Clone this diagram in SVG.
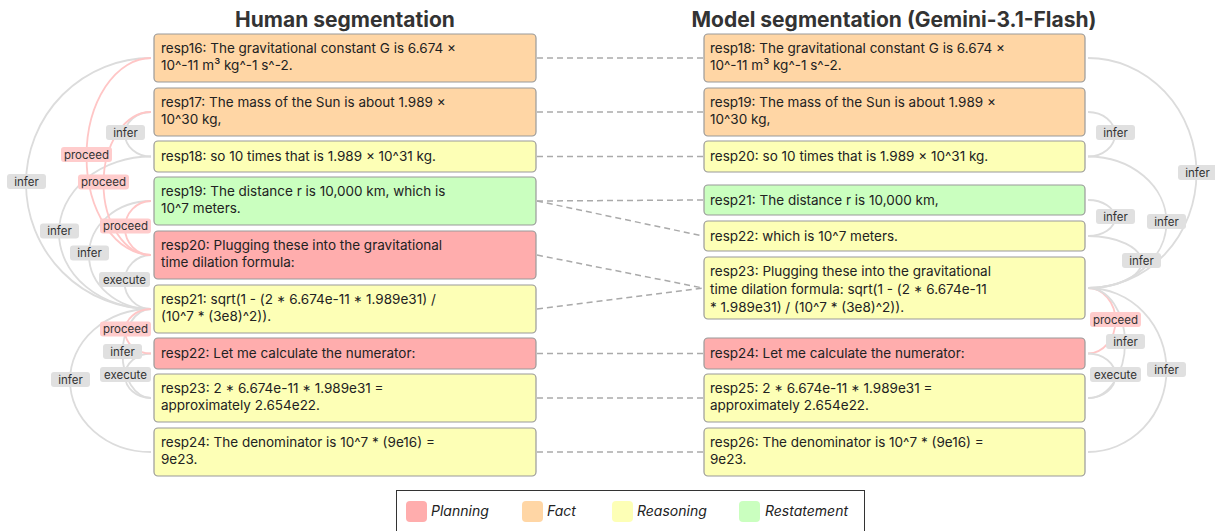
<svg xmlns="http://www.w3.org/2000/svg" width="1215" height="531" viewBox="0 0 1215 531">
<style>
.title{font-family:Inter,"Liberation Sans",sans-serif;font-weight:700;font-size:21px;fill:#333;text-anchor:middle}
.box{stroke:#9a9a9a;stroke-width:1.2}
.fact{fill:#FFD6A5}.reas{fill:#FDFFB6}.rest{fill:#CAFFBF}.plan{fill:#FFADAD}
.t{font-family:Inter,"Liberation Sans",sans-serif;font-size:13.5px;fill:#222}
.dash{stroke:#aaa;stroke-width:1.5;stroke-dasharray:6 4;fill:none}
.arc{fill:none;stroke:#dcdcdc;stroke-width:1.8}
.parc{fill:none;stroke:#ffc6c6;stroke-width:1.8}
.lg{fill:#e0e0e0}.lp{fill:#ffcccc}
.lt{font-family:Inter,"Liberation Sans",sans-serif;font-size:11.5px;fill:#333;text-anchor:middle}
.leg{font-family:Inter,"Liberation Sans",sans-serif;font-size:14px;font-style:italic;fill:#222}
</style>
<rect width="1215" height="531" fill="#fff"/>
<text class="title" x="345" y="27">Human segmentation</text>
<text class="title" x="894" y="27">Model segmentation (Gemini-3.1-Flash)</text>

<g id="connectors">
<!-- left arcs -->
<path class="arc" d="M151 58 A124.5 125 0 0 0 151 309"/>
<path class="arc" d="M151 156.5 A92 76.25 0 0 0 151 309"/>
<path class="arc" d="M151 201 A62 54 0 0 0 151 309"/>
<path class="arc" d="M151 255 A26.5 27 0 0 0 151 309"/>
<path class="arc" d="M151 112 A26 22.25 0 0 0 151 156.5"/>
<path class="parc" d="M151 58 A64.5 98.5 0 0 0 151 255"/>
<path class="parc" d="M151 112 A47.5 71.5 0 0 0 151 255"/>
<path class="parc" d="M151 201 A26 27 0 0 0 151 255"/>
<path class="arc" d="M151 309 A81 71.5 0 0 0 151 452"/>
<path class="arc" d="M151 309 A28.5 44.5 0 0 0 151 398"/>
<path class="arc" d="M151 353.5 A26 22.25 0 0 0 151 398"/>
<path class="parc" d="M151 309 A26 22.25 0 0 0 151 353.5"/>
<!-- right arcs -->
<path class="arc" d="M1088 58 A108.5 115 0 0 1 1088 288"/>
<path class="arc" d="M1088 112 A27 22.25 0 0 1 1088 156.5"/>
<path class="arc" d="M1088 156.5 A78.5 65.75 0 0 1 1088 288"/>
<path class="arc" d="M1088 200 A27 18 0 0 1 1088 236"/>
<path class="arc" d="M1088 236 A53.5 26 0 0 1 1088 288"/>
<path class="parc" d="M1088 288 A27.5 32.75 0 0 1 1088 353.5"/>
<path class="arc" d="M1088 288 A37 55 0 0 1 1088 398"/>
<path class="arc" d="M1088 353.5 A27.5 22.25 0 0 1 1088 398"/>
<path class="arc" d="M1088 288 A78.5 82 0 0 1 1088 452"/>
<!-- dashed alignments -->
<path class="dash" d="M537 58 L703 58"/>
<path class="dash" d="M537 112 L703 112"/>
<path class="dash" d="M537 156.5 L703 156.5"/>
<path class="dash" d="M537 201 L703 200"/>
<path class="dash" d="M537 201 L703 236"/>
<path class="dash" d="M537 255 L703 288"/>
<path class="dash" d="M537 309 L703 288"/>
<path class="dash" d="M537 353.5 L703 353.5"/>
<path class="dash" d="M537 398 L703 398"/>
<path class="dash" d="M537 452 L703 452"/>
<!-- labels left -->
<rect class="lg" x="106" y="125" width="39" height="15" rx="3"/><text class="lt" x="125.5" y="136.5">infer</text>
<rect class="lp" x="61" y="147" width="51" height="15" rx="3"/><text class="lt" x="86.5" y="158.5">proceed</text>
<rect class="lg" x="7" y="174" width="39" height="15" rx="3"/><text class="lt" x="26.5" y="185.5">infer</text>
<rect class="lp" x="78" y="174.5" width="51" height="15" rx="3"/><text class="lt" x="103.5" y="186">proceed</text>
<rect class="lp" x="100" y="218.5" width="51" height="15" rx="3"/><text class="lt" x="125.5" y="230">proceed</text>
<rect class="lg" x="40" y="223.5" width="39" height="15" rx="3"/><text class="lt" x="59.5" y="235">infer</text>
<rect class="lg" x="70" y="245.5" width="39" height="15" rx="3"/><text class="lt" x="89.5" y="257">infer</text>
<rect class="lg" x="99" y="272" width="51" height="15" rx="3"/><text class="lt" x="124.5" y="283.5">execute</text>
<rect class="lp" x="100" y="321.5" width="51" height="15" rx="3"/><text class="lt" x="125.5" y="333">proceed</text>
<rect class="lg" x="103" y="344" width="39" height="15" rx="3"/><text class="lt" x="122.5" y="355.5">infer</text>
<rect class="lg" x="100" y="367" width="51" height="15" rx="3"/><text class="lt" x="125.5" y="378.5">execute</text>
<rect class="lg" x="51" y="372" width="39" height="15" rx="3"/><text class="lt" x="70.5" y="383.5">infer</text>
<!-- labels right -->
<rect class="lg" x="1096" y="125" width="39" height="15" rx="3"/><text class="lt" x="1115.5" y="136.5">infer</text>
<rect class="lg" x="1178" y="165" width="39" height="15" rx="3"/><text class="lt" x="1197.5" y="176.5">infer</text>
<rect class="lg" x="1096" y="209" width="39" height="15" rx="3"/><text class="lt" x="1115.5" y="220.5">infer</text>
<rect class="lg" x="1147" y="214" width="39" height="15" rx="3"/><text class="lt" x="1166.5" y="225.5">infer</text>
<rect class="lg" x="1122" y="253" width="39" height="15" rx="3"/><text class="lt" x="1141.5" y="264.5">infer</text>
<rect class="lp" x="1090" y="312" width="51" height="15" rx="3"/><text class="lt" x="1115.5" y="323.5">proceed</text>
<rect class="lg" x="1106" y="334" width="39" height="15" rx="3"/><text class="lt" x="1125.5" y="345.5">infer</text>
<rect class="lg" x="1147" y="362" width="39" height="15" rx="3"/><text class="lt" x="1166.5" y="373.5">infer</text>
<rect class="lg" x="1090" y="367" width="51" height="15" rx="3"/><text class="lt" x="1115.5" y="378.5">execute</text>
</g>

<g id="L16"><rect class="box fact" x="154" y="34" width="382" height="48" rx="4"/><text class="t" x="161" y="53">resp16: The gravitational constant G is 6.674 ×</text><text class="t" x="161" y="70">10^-11 m³ kg^-1 s^-2.</text></g>
<g id="L17"><rect class="box fact" x="154" y="88" width="382" height="48" rx="4"/><text class="t" x="161" y="107">resp17: The mass of the Sun is about 1.989 ×</text><text class="t" x="161" y="124">10^30 kg,</text></g>
<g id="L18"><rect class="box reas" x="154" y="141" width="382" height="31" rx="4"/><text class="t" x="161" y="161">resp18: so 10 times that is 1.989 × 10^31 kg.</text></g>
<g id="L19"><rect class="box rest" x="154" y="177" width="382" height="48" rx="4"/><text class="t" x="161" y="196">resp19: The distance r is 10,000 km, which is</text><text class="t" x="161" y="213">10^7 meters.</text></g>
<g id="L20"><rect class="box plan" x="154" y="231" width="382" height="48" rx="4"/><text class="t" x="161" y="250">resp20: Plugging these into the gravitational</text><text class="t" x="161" y="267">time dilation formula:</text></g>
<g id="L21"><rect class="box reas" x="154" y="285" width="382" height="48" rx="4"/><text class="t" x="161" y="304">resp21: sqrt(1 - (2 * 6.674e-11 * 1.989e31) /</text><text class="t" x="161" y="321">(10^7 * (3e8)^2)).</text></g>
<g id="L22"><rect class="box plan" x="154" y="338" width="382" height="31" rx="4"/><text class="t" x="161" y="358">resp22: Let me calculate the numerator:</text></g>
<g id="L23"><rect class="box reas" x="154" y="374" width="382" height="48" rx="4"/><text class="t" x="161" y="393">resp23: 2 * 6.674e-11 * 1.989e31 =</text><text class="t" x="161" y="410">approximately 2.654e22.</text></g>
<g id="L24"><rect class="box reas" x="154" y="428" width="382" height="48" rx="4"/><text class="t" x="161" y="447">resp24: The denominator is 10^7 * (9e16) =</text><text class="t" x="161" y="464">9e23.</text></g>

<g id="R18"><rect class="box fact" x="704" y="34" width="381" height="48" rx="4"/><text class="t" x="710" y="53">resp18: The gravitational constant G is 6.674 ×</text><text class="t" x="710" y="70">10^-11 m³ kg^-1 s^-2.</text></g>
<g id="R19"><rect class="box fact" x="704" y="88" width="381" height="48" rx="4"/><text class="t" x="710" y="107">resp19: The mass of the Sun is about 1.989 ×</text><text class="t" x="710" y="124">10^30 kg,</text></g>
<g id="R20"><rect class="box reas" x="704" y="141" width="381" height="31" rx="4"/><text class="t" x="710" y="161">resp20: so 10 times that is 1.989 × 10^31 kg.</text></g>
<g id="R21"><rect class="box rest" x="704" y="185" width="381" height="30" rx="4"/><text class="t" x="710" y="205">resp21: The distance r is 10,000 km,</text></g>
<g id="R22"><rect class="box reas" x="704" y="221" width="381" height="30" rx="4"/><text class="t" x="710" y="241">resp22: which is 10^7 meters.</text></g>
<g id="R23"><rect class="box reas" x="704" y="257" width="381" height="62" rx="4"/><text class="t" x="710" y="276">resp23: Plugging these into the gravitational</text><text class="t" x="710" y="294">time dilation formula: sqrt(1 - (2 * 6.674e-11</text><text class="t" x="710" y="312">* 1.989e31) / (10^7 * (3e8)^2)).</text></g>
<g id="R24"><rect class="box plan" x="704" y="338" width="381" height="31" rx="4"/><text class="t" x="710" y="358">resp24: Let me calculate the numerator:</text></g>
<g id="R25"><rect class="box reas" x="704" y="374" width="381" height="48" rx="4"/><text class="t" x="710" y="393">resp25: 2 * 6.674e-11 * 1.989e31 =</text><text class="t" x="710" y="410">approximately 2.654e22.</text></g>
<g id="R26"><rect class="box reas" x="704" y="428" width="381" height="48" rx="4"/><text class="t" x="710" y="447">resp26: The denominator is 10^7 * (9e16) =</text><text class="t" x="710" y="464">9e23.</text></g>

<g id="legend">
<rect x="396.5" y="490.5" width="468" height="50" fill="#fff" stroke="#333" stroke-width="1"/>
<rect x="406" y="501" width="21" height="21" rx="4" class="plan"/><text class="leg" x="431" y="516">Planning</text>
<rect x="522" y="501" width="21" height="21" rx="4" class="fact"/><text class="leg" x="547" y="516">Fact</text>
<rect x="612" y="501" width="21" height="21" rx="4" class="reas"/><text class="leg" x="637" y="516">Reasoning</text>
<rect x="739" y="501" width="21" height="21" rx="4" class="rest"/><text class="leg" x="765" y="516">Restatement</text>
</g>
</svg>
